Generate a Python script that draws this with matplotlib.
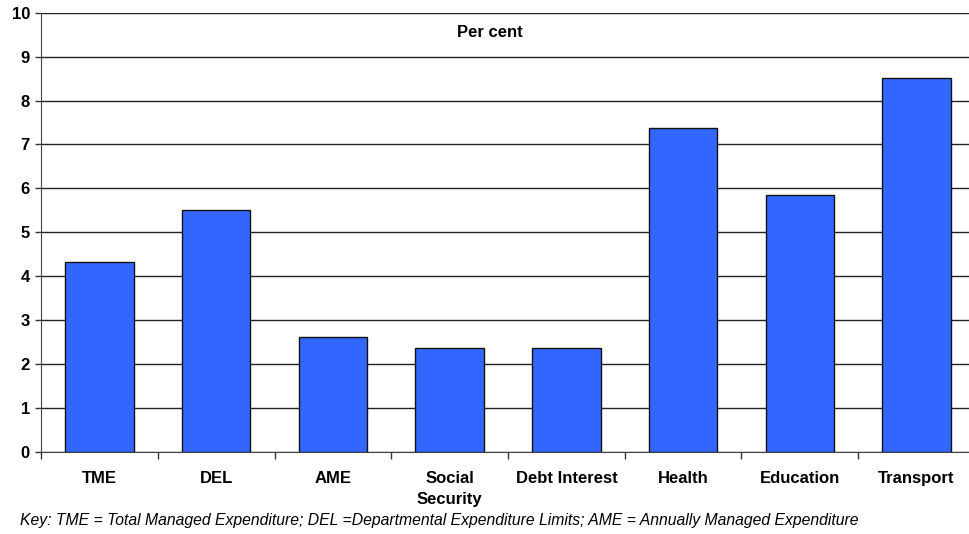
import matplotlib
matplotlib.use("Agg")
import matplotlib.pyplot as plt

categories = ["TME", "DEL", "AME", "Social\nSecurity", "Debt Interest", "Health", "Education", "Transport"]
values = [4.32, 5.52, 2.62, 2.36, 2.36, 7.37, 5.86, 8.52]
y_ticks = list(range(0, 11))

plt.rcParams['font.family'] = ['Liberation Sans', 'DejaVu Sans']

fig = plt.figure(figsize=(9.7, 5.34), dpi=100)
ax = fig.add_axes([41/970, (534-452)/534, 934/970, (452-12.7)/534])

x = list(range(len(categories)))
ax.bar(x, values, width=0.585, color="#3366FF", edgecolor="#111111", linewidth=1.0, zorder=3)

ax.set_xlim(-0.5, len(categories) - 0.5)
ax.set_ylim(0, 10)
ax.set_yticks(y_ticks)
ax.set_yticklabels([str(t) for t in y_ticks], fontsize=12, fontweight='bold')
ax.yaxis.grid(True, color="#222222", linewidth=1.0, zorder=0)
ax.set_axisbelow(True)

ax.set_xticks(x)
ax.set_xticklabels(categories, fontsize=12, fontweight='bold', linespacing=1.5)
ax.set_xticks([i - 0.5 for i in range(len(categories) + 1)], minor=True)
ax.tick_params(axis='x', which='major', length=0, pad=13.5)
ax.tick_params(axis='x', which='minor', length=5, width=1, color="#333333", direction='out')
ax.tick_params(axis='y', length=4, width=1, color="#333333", direction='out', pad=4)

for s in ['top', 'right']:
    ax.spines[s].set_visible(False)
ax.spines['left'].set_color("#444444")
ax.spines['bottom'].set_color("#444444")

ax.text(0.481, 0.955, "Per cent", transform=ax.transAxes, ha='center', va='center',
        fontsize=12, fontweight='bold')

key = "Key: TME = Total Managed Expenditure; DEL =Departmental Expenditure Limits; AME = Annually Managed Expenditure"
fig.text(20/970, 1 - 520/534, key, fontsize=11.3, fontstyle='italic', ha='left', va='center')

fig.savefig("out.png", dpi=100)
